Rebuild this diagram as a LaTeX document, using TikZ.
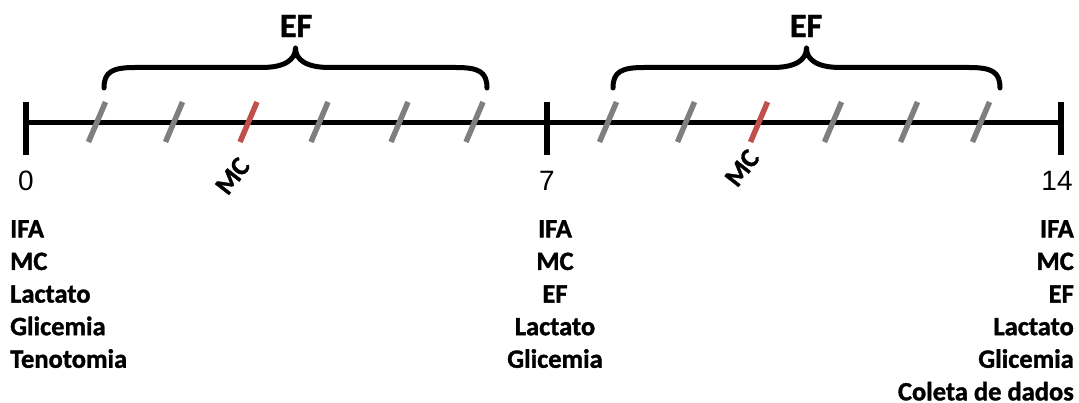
\documentclass[tikz,border=0pt]{standalone}
\usepackage{fontspec}
\setmainfont{Carlito}[BoldFeatures={FakeBold=1.3}]
\newfontfamily\numfont{Liberation Sans}
\begin{document}
\begin{tikzpicture}[x=1pt,y=-1pt,
  axis/.style={line width=5pt},
  daytick/.style={line width=6pt},
  session/.style={line width=5.5pt,color=sessiongray},
  mcsession/.style={line width=5.5pt,color=mcred},
  brace/.style={line width=5pt,line cap=round,line join=round},
  daylabel/.style={font=\numfont\fontsize{28}{30}\selectfont,inner sep=0pt},
  phase/.style={font=\bfseries\fontsize{34}{36}\selectfont,inner sep=0pt},
  mclabel/.style={font=\bfseries\fontsize{27}{29}\selectfont,inner sep=0pt,rotate=52},
  tasklist/.style={font=\bfseries\fontsize{26.5}{32.6}\selectfont,inner sep=0pt}]
\definecolor{sessiongray}{HTML}{7F7F7F}
\definecolor{mcred}{HTML}{C0504D}
\useasboundingbox (0,0) rectangle (1079,403);

% days of the protocol
\coordinate (d0) at (26,123);
\coordinate (d7) at (547,123);
\coordinate (d14) at (1061,123);
\draw[axis] (d0) -- (d14);
\foreach \c in {d0,d7,d14}
  \draw[daytick] ([yshift=21pt]\c) -- ([yshift=-32pt]\c);

% training sessions
\foreach \x in {97,174,319.5,399.5,474.5,608,686,833,909,981}
  \draw[session] (\x-8.5,142) -- (\x+8.5,102);
\foreach \x in {248.5,759}
  \draw[mcsession] (\x-8.5,142) -- (\x+8.5,102);

% braces over the training weeks
\foreach \a/\m/\b in {104/295.5/487, 613/806.5/1000}
  \draw[brace] (\a,88) .. controls (\a,72) and (\a+8,67.5) .. (\a+31,67.5)
    -- (\m-34,67.5) .. controls (\m-11,67.5) and (\m,60) .. (\m,48)
    .. controls (\m,60) and (\m+11,67.5) .. (\m+34,67.5)
    -- (\b-31,67.5) .. controls (\b-8,67.5) and (\b,72) .. (\b,88);
\node[phase] (ef1) at (296,26) {EF};
\node[phase] (ef2) at (806,26) {EF};

\node[mclabel] (mc1) at (232.5,176) {MC};
\node[mclabel] (mc2) at (742,168) {MC};

\node[daylabel] (n0) at (26,181) {0};
\node[daylabel] (n7) at (547,181) {7};
\node[daylabel] (n14) at (1057,181) {14};

\node[tasklist,anchor=north west,align=left] (t0) at (10,220)
  {IFA\\MC\\Lactato\\Glicemia\\Tenotomia};
\node[tasklist,anchor=north,align=center] (t7) at (555,220)
  {IFA\\MC\\EF\\Lactato\\Glicemia};
\node[tasklist,anchor=north east,align=right] (t14) at (1074,220)
  {IFA\\MC\\EF\\Lactato\\Glicemia\\Coleta de dados};
\end{tikzpicture}
\end{document}
